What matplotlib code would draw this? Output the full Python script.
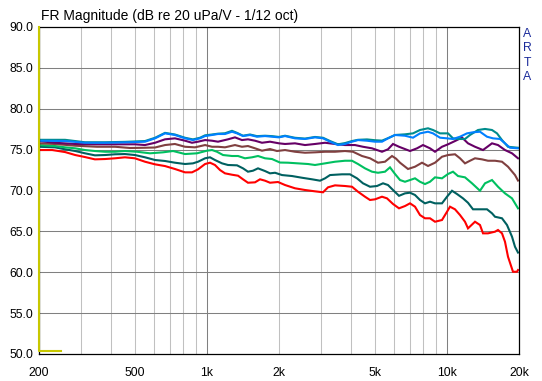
import matplotlib
matplotlib.use("Agg")
import matplotlib.pyplot as plt
from matplotlib.ticker import NullLocator

plt.rcParams['font.family'] = ['Liberation Sans', 'DejaVu Sans']

title = "FR Magnitude (dB re 20 uPa/V - 1/12 oct)"
side_text = "ARTA"

x_ticks = [200, 500, 1000, 2000, 5000, 10000, 20000]
x_ticklabels = ['200', '500', '1k', '2k', '5k', '10k', '20k']
y_ticks = [50, 55, 60, 65, 70, 75, 80, 85, 90]
y_ticklabels = ['50.0', '55.0', '60.0', '65.0', '70.0', '75.0', '80.0', '85.0', '90.0']
minor_grid_f = [300, 400, 500, 600, 700, 800, 900, 2000, 3000, 4000, 5000, 6000, 7000, 8000, 9000]
major_grid_f = [1000, 10000]
h_grid_db = [55, 60, 65, 70, 75, 80, 85]

red_f = [200, 227, 257, 283, 311, 342, 377, 415, 456, 502, 553, 609, 670, 737, 812, 868, 920, 984, 1032, 1082,
         1136, 1191, 1274, 1350, 1416, 1485, 1589, 1667, 1749, 1835, 1981, 2119, 2332, 2567, 2825, 3051, 3201, 3423, 3767, 4029,
         4268, 4564, 4789, 5024, 5373, 5637, 5971, 6325, 6699, 7029, 7374, 7736, 8116, 8516, 8934, 9554, 10024, 10316, 10823, 11355,
         11913, 12261, 13113, 13757, 14159, 14855, 15887, 16350, 16989, 17486, 17997, 18881, 19620, 19809]
red_db = [74.95, 74.95, 74.7, 74.34, 74.09, 73.81, 73.85, 73.94, 74.06, 73.94, 73.52, 73.20, 72.99, 72.63, 72.22, 72.22, 72.59, 73.24, 73.40, 73.12,
          72.50, 72.10, 71.93, 71.81, 71.37, 70.95, 71.0, 71.37, 71.20, 70.95, 71.04, 70.67, 70.27, 70.06, 69.90, 69.78, 70.39, 70.63, 70.55, 70.46,
          69.85, 69.24, 68.84, 68.92, 69.24, 69.04, 68.35, 67.82, 68.10, 68.43, 68.02, 67.0, 66.60, 66.60, 66.18, 66.39, 67.40, 68.02, 67.70, 67.0,
          66.18, 65.37, 66.18, 65.78, 64.76, 64.76, 64.96, 65.17, 64.76, 63.73, 61.90, 60.06, 60.06, 60.27]

dteal_f = [200, 233, 257, 283, 311, 342, 377, 415, 456, 502, 553, 609, 670, 737, 812, 876, 920, 984, 1032, 1082,
           1158, 1226, 1337, 1416, 1485, 1558, 1635, 1749, 1835, 1925, 2058, 2266, 2494, 2745, 2965, 3111, 3264, 3660, 3952, 4227,
           4477, 4789, 5121, 5425, 5691, 5971, 6325, 6699, 7029, 7374, 7736, 8116, 8516, 8934, 9554, 10024, 10516, 11033, 11687, 12261,
           12864, 13757, 14713, 15436, 15887, 16989, 17825, 18701, 19247, 19809]
dteal_db = [75.35, 75.28, 75.04, 74.83, 74.55, 74.30, 74.34, 74.43, 74.46, 74.34, 74.06, 73.73, 73.61, 73.40, 73.24, 73.32, 73.52, 73.94, 74.06, 73.73,
            73.32, 73.12, 73.08, 72.71, 72.30, 72.42, 72.71, 72.38, 72.10, 72.17, 71.89, 71.77, 71.56, 71.37, 71.20, 71.49, 71.89, 71.98, 71.98, 71.49,
            70.88, 70.46, 70.55, 70.88, 70.67, 70.06, 69.35, 69.65, 69.73, 69.45, 68.84, 68.43, 68.63, 68.43, 68.43, 69.24, 69.97, 69.57, 69.04, 68.50,
            67.70, 67.70, 67.70, 67.21, 66.79, 66.60, 65.78, 64.35, 63.12, 62.41]

green_f = [200, 233, 257, 283, 311, 342, 377, 415, 456, 512, 580, 657, 724, 812, 911, 1002, 1052, 1103, 1169, 1274,
           1350, 1443, 1544, 1635, 1749, 1870, 2019, 2180, 2400, 2642, 2825, 3111, 3423, 3767, 4029, 4268, 4564, 4881, 5171, 5529,
           5801, 6087, 6386, 6699, 7029, 7374, 7736, 8116, 8516, 8934, 9554, 10121, 10618, 11139, 11913, 12741, 13757, 14433, 15436, 16350,
           17486, 18701, 19809]
green_db = [75.56, 75.44, 75.28, 75.16, 74.95, 74.83, 74.74, 74.74, 74.83, 74.74, 74.55, 74.67, 74.83, 74.46, 74.55, 74.87, 74.95, 74.74, 74.34, 74.22,
            74.22, 73.94, 74.06, 74.22, 73.94, 73.85, 73.42, 73.40, 73.32, 73.24, 73.12, 73.32, 73.52, 73.64, 73.64, 73.24, 72.71, 72.30, 72.17, 72.30,
            72.83, 72.02, 71.28, 71.07, 71.28, 71.49, 71.07, 70.79, 71.07, 71.61, 71.49, 72.02, 72.30, 71.77, 71.61, 70.88, 69.97, 70.88, 71.28, 70.46,
            69.65, 69.04, 67.82]

brown_f = [200, 233, 283, 349, 415, 479, 553, 609, 670, 737, 812, 893, 984, 1052, 1114, 1191, 1311, 1402, 1485, 1589,
           1699, 1835, 1962, 2119, 2332, 2567, 2825, 3111, 3423, 3767, 4067, 4435, 4789, 5171, 5529, 5914, 6146, 6386, 6895, 7374,
           7886, 8354, 8934, 9554, 10121, 10823, 11355, 11913, 12499, 13113, 14024, 14855, 15887, 16989, 17997, 19247, 19809]
brown_db = [75.77, 75.69, 75.48, 75.35, 75.35, 75.20, 75.23, 75.26, 75.56, 75.69, 75.35, 75.28, 75.56, 75.35, 75.35, 75.28, 75.56, 75.35, 75.44, 75.16,
            74.87, 75.07, 74.83, 74.95, 74.74, 74.62, 74.67, 74.74, 74.74, 74.83, 74.74, 74.22, 73.94, 73.40, 73.52, 74.22, 73.90, 73.40, 72.63, 72.91,
            73.40, 73.0, 73.40, 74.13, 74.34, 74.43, 73.94, 73.32, 73.64, 73.94, 73.81, 73.64, 73.64, 73.52, 72.91, 71.89, 71.22]

purple_f = [200, 233, 283, 342, 415, 502, 553, 609, 670, 737, 812, 868, 920, 984, 1052, 1114, 1226, 1311, 1402, 1485,
            1589, 1699, 1835, 2000, 2119, 2332, 2567, 2825, 3111, 3423, 3767, 4146, 4477, 4881, 5373, 5691, 5971, 6325, 7029, 7517,
            7962, 8516, 8934, 9554, 10121, 10823, 11575, 12261, 13113, 14159, 15436, 16350, 17486, 18701, 19809]
purple_db = [76.05, 75.84, 75.69, 75.65, 75.65, 75.65, 75.56, 75.84, 76.26, 76.38, 76.09, 75.84, 75.97, 76.17, 76.09, 75.97, 76.26, 76.50, 76.17, 76.26,
             76.09, 75.84, 75.97, 75.77, 75.69, 75.77, 75.56, 75.69, 75.84, 75.69, 75.56, 75.56, 75.35, 75.16, 74.74, 75.04, 75.69, 75.35, 74.83, 75.16,
             75.56, 75.16, 74.74, 75.35, 75.65, 76.05, 76.48, 75.77, 75.35, 74.95, 75.77, 75.56, 74.95, 74.55, 73.94]

blue_f = [200, 257, 311, 377, 456, 553, 609, 670, 737, 812, 876, 937, 984, 1052, 1114, 1191, 1274, 1337, 1416, 1514,
          1619, 1749, 1870, 2000, 2119, 2332, 2567, 2825, 3051, 3264, 3523, 3767, 4029, 4268, 4653, 5024, 5373, 5691, 6087, 6699,
          7234, 7736, 8354, 8764, 9373, 10024, 10618, 11355, 12144, 12864, 13757, 14713, 15585, 16667, 17486, 18346, 19809]
blue_db = [76.09, 76.05, 75.84, 75.84, 75.89, 75.97, 76.38, 76.99, 76.79, 76.38, 76.17, 76.38, 76.66, 76.79, 76.91, 76.91, 77.19, 76.99, 76.66, 76.79,
           76.58, 76.66, 76.58, 76.50, 76.66, 76.38, 76.30, 76.50, 76.38, 75.97, 75.56, 75.69, 75.97, 76.17, 76.09, 75.97, 75.97, 76.38, 76.79, 76.70,
           76.46, 76.99, 77.19, 76.99, 76.46, 76.38, 76.30, 76.58, 76.99, 77.12, 77.19, 76.58, 76.38, 76.30, 75.77, 75.23, 75.16]

teal_f = [200, 257, 311, 377, 456, 553, 609, 670, 737, 812, 876, 937, 984, 1052, 1114, 1191, 1274, 1337, 1416, 1514,
          1619, 1749, 1870, 2000, 2119, 2332, 2567, 2825, 3051, 3264, 3523, 3767, 4029, 4268, 4653, 5024, 5373, 5691, 6087, 6699,
          7234, 7736, 8354, 8764, 9373, 10121, 10618, 11139, 11913, 12499, 13496, 14433, 15436, 16194, 16989, 17997, 19809]
teal_db = [76.2, 76.2, 75.9, 75.9, 75.95, 76.05, 76.45, 77.05, 76.85, 76.45, 76.25, 76.45, 76.75, 76.85, 76.95, 77.0, 77.3, 77.05, 76.7, 76.85,
           76.65, 76.7, 76.65, 76.55, 76.7, 76.45, 76.35, 76.55, 76.45, 76.05, 75.65, 75.8, 76.05, 76.2, 76.25, 76.15, 76.1, 76.4, 76.79, 76.87,
           76.99, 77.40, 77.61, 77.40, 76.99, 76.99, 76.38, 76.30, 76.30, 76.79, 77.40, 77.53, 77.40, 76.99, 76.17, 75.35, 75.23]

yellow_f = [200, 200, 247]
yellow_db = [90, 50.32, 50.32]

series = [
    (red_f, red_db, '#ff0000'),
    (dteal_f, dteal_db, '#006060'),
    (green_f, green_db, '#00c060'),
    (brown_f, brown_db, '#804040'),
    (purple_f, purple_db, '#660066'),
    (teal_f, teal_db, '#008c8c'),
    (blue_f, blue_db, '#0080ff'),
]

W, H = 542, 381
fig = plt.figure(figsize=(W / 100, H / 100), dpi=100)
ax = fig.add_axes([39 / W, 1 - 354 / H, 480 / W, 327 / H])
ax.set_xscale('log')
ax.set_xlim(200, 20000)
ax.set_ylim(50, 90)

for f in minor_grid_f:
    ax.axvline(f, color='#c0c0c0', lw=0.75, zorder=1)
for f in major_grid_f:
    ax.axvline(f, color='#808080', lw=0.75, zorder=1)
for d in h_grid_db:
    ax.axhline(d, color='#808080', lw=0.75, zorder=1)

for fx, dy, c in series:
    ax.plot(fx, dy, color=c, lw=1.5, zorder=2, solid_joinstyle='miter')

ax.plot(yellow_f, yellow_db, color='#c8c800', lw=1.5, zorder=3, clip_on=False)

ax.set_xticks(x_ticks)
ax.set_xticklabels(x_ticklabels)
ax.xaxis.set_minor_locator(NullLocator())
ax.set_yticks(y_ticks)
ax.set_yticklabels(y_ticklabels)
ax.tick_params(axis='both', length=0, labelsize=8.8, colors='black')
ax.tick_params(axis='x', pad=9)
ax.tick_params(axis='y', pad=4)
for s in ax.spines.values():
    s.set_color('black')
    s.set_linewidth(0.9)

fig.text(41 / W, 1 - 20 / H, title, fontsize=10, ha='left', va='baseline', color='black')
for i, ch in enumerate(side_text):
    fig.text(527 / W, 1 - (34 + 14.3 * i) / H, ch, fontsize=8.8, ha='center', va='center', color='#1a2a9a')

fig.savefig('out.png', dpi=100, facecolor='white')
